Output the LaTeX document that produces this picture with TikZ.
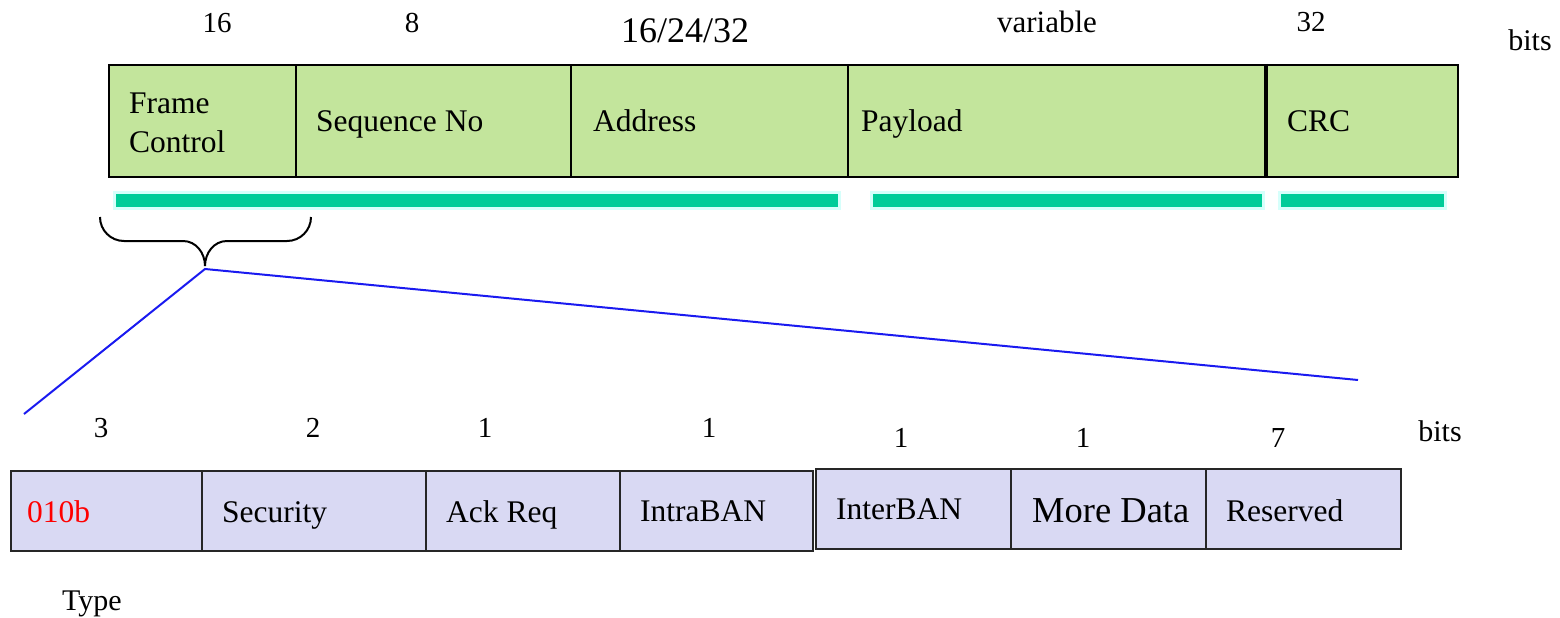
\documentclass[tikz,border=0pt]{standalone}
\usepackage{fontspec}
\setmainfont{Liberation Serif}
\definecolor{fgreen}{HTML}{C3E59C}
\definecolor{flav}{HTML}{D9D9F3}
\definecolor{teal2}{HTML}{00CC99}
\definecolor{tealedge}{HTML}{D6FFFB}
\definecolor{linkblue}{HTML}{1A1AF0}
\begin{document}
\begin{tikzpicture}[x=1pt,y=-1pt,
  fbox/.style={draw=black,line width=2pt,fill=fgreen,inner sep=0pt},
  lbox/.style={draw=black!85,line width=2pt,fill=flav,inner sep=0pt},
  bar/.style={draw=tealedge,line width=2.5pt,fill=teal2},
  lab/.style={font=\fontsize{31.5}{39}\selectfont,inner sep=0pt,anchor=base west},
  num/.style={font=\fontsize{29}{32}\selectfont,inner sep=0pt,anchor=base},
  link/.style={draw=linkblue,line width=2pt},
  brace/.style={draw=black,line width=2pt}]
\useasboundingbox (0,0) rectangle (1560,618);
% top frame
\node[fbox,minimum width=187,minimum height=112,anchor=north west] (fc) at (108,64) {};
\node[fbox,minimum width=275,minimum height=112,anchor=north west] (sn) at (295,64) {};
\node[fbox,minimum width=277,minimum height=112,anchor=north west] (ad) at (570,64) {};
\node[fbox,minimum width=417,minimum height=112,anchor=north west] (pl) at (847,64) {};
\node[fbox,minimum width=193,minimum height=112,anchor=north west] (crc) at (1264,64) {};
\draw[line width=2pt] (1267,64) -- (1267,176);
\node[lab] (tfc) at (129,113) {\begin{tabular}[t]{@{}l@{}}Frame\\Control\end{tabular}};
\node[lab] (tsn) at (316,131) {Sequence No};
\node[lab] (tad) at (593,131) {Address};
\node[lab] (tpl) at (861,131) {Payload};
\node[lab] (tcrc) at (1287,131) {CRC};
% top numbers
\node[num] (n16) at (217,33) {16};
\node[num] (n8) at (412,33) {8};
\node[num,font=\fontsize{36}{40}\selectfont] (n162432) at (685,43) {16/24/32};
\node[num,font=\fontsize{31}{34}\selectfont] (nvar) at (1047,33) {variable};
\node[num] (n32) at (1311,32) {32};
\node[num,font=\fontsize{30}{33}\selectfont] (nbits1) at (1530,51) {bits};
% teal bars
\node[bar,minimum width=725,minimum height=16,anchor=north west,inner sep=0pt] (b1) at (113,191) {};
\node[bar,minimum width=392,minimum height=16,anchor=north west,inner sep=0pt] (b2) at (870,191) {};
\node[bar,minimum width=166,minimum height=16,anchor=north west,inner sep=0pt] (b3) at (1278,191) {};
% brace
\coordinate (tip) at (205,266);
\draw[brace] (100,217) to[out=-90,in=180] (124,241) -- (183,241) to[out=0,in=90] (tip);
\draw[brace] (311,217) to[out=-90,in=0] (287,241) -- (227,241) to[out=180,in=90] (tip);
% blue links
\coordinate (apex) at (205,269);
\coordinate (leftend) at (24,414);
\coordinate (rightend) at (1358,380);
\draw[link] (leftend) -- (apex) -- (rightend);
% bottom numbers
\node[num] (m3) at (101,437) {3};
\node[num] (m2) at (313,437) {2};
\node[num] (m1a) at (485,437) {1};
\node[num] (m1b) at (709,437) {1};
\node[num] (m1c) at (901,447) {1};
\node[num] (m1d) at (1083,447) {1};
\node[num] (m7) at (1278,447) {7};
\node[num,font=\fontsize{30}{33}\selectfont] (nbits2) at (1440,441) {bits};
% bottom boxes
\node[lbox,minimum width=191,minimum height=80,anchor=north west] (ty) at (10,470) {};
\node[lbox,minimum width=224,minimum height=80,anchor=north west] (se) at (201,470) {};
\node[lbox,minimum width=194,minimum height=80,anchor=north west] (ak) at (425,470) {};
\node[lbox,minimum width=193,minimum height=80,anchor=north west] (ia) at (619,470) {};
\node[lbox,minimum width=195,minimum height=80,anchor=north west] (ie) at (815,468) {};
\node[lbox,minimum width=195,minimum height=80,anchor=north west] (md) at (1010,468) {};
\node[lbox,minimum width=195,minimum height=80,anchor=north west] (rs) at (1205,468) {};
\node[lab,text=red] (t010) at (27,522) {010b};
\node[lab] (tse) at (222,522) {Security};
\node[lab] (tak) at (446,522) {Ack Req};
\node[lab] (tia) at (640,521) {IntraBAN};
\node[lab] (tie) at (836,519) {InterBAN};
\node[lab,font=\fontsize{36.5}{40}\selectfont] (tmd) at (1032,522) {More Data};
\node[lab] (trs) at (1226,521) {Reserved};
\node[num,font=\fontsize{30}{33}\selectfont] (ttype) at (92,610) {Type};
\end{tikzpicture}
\end{document}
